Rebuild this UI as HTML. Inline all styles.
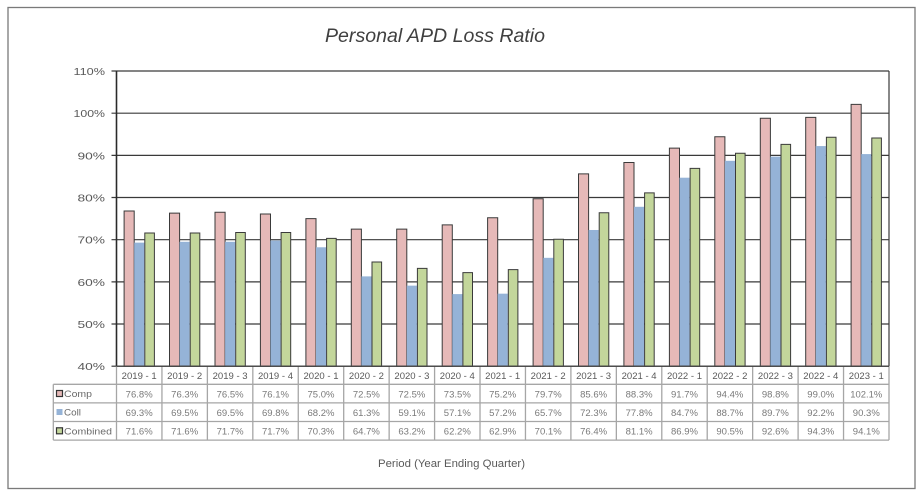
<!DOCTYPE html>
<html><head><meta charset="utf-8"><style>
html,body{margin:0;padding:0;background:#fff;}
svg{display:block;}
text{font-family:"Liberation Sans",sans-serif;fill:#595959;}
.v text{fill:#7a7a7a;}
</style></head><body>
<svg width="922" height="497" viewBox="0 0 922 497" xmlns="http://www.w3.org/2000/svg">
<rect x="0" y="0" width="922" height="497" fill="#fff"/>
<rect x="8" y="7.5" width="907" height="481" fill="#fff" stroke="#7a7a7a" stroke-width="1.3"/>
<text x="325" y="42" font-size="19" font-style="italic" textLength="220" lengthAdjust="spacingAndGlyphs" style="fill:#404040">Personal APD Loss Ratio</text>

<!-- gridlines -->
<g stroke="#3a3a3a" stroke-width="1.2">
<line x1="111.5" y1="71" x2="889" y2="71"/>
<line x1="111.5" y1="113.2" x2="889" y2="113.2"/>
<line x1="111.5" y1="155.4" x2="889" y2="155.4"/>
<line x1="111.5" y1="197.5" x2="889" y2="197.5"/>
<line x1="111.5" y1="239.7" x2="889" y2="239.7"/>
<line x1="111.5" y1="281.9" x2="889" y2="281.9"/>
<line x1="111.5" y1="324.0" x2="889" y2="324.0"/>
<line x1="111.5" y1="366.2" x2="116.5" y2="366.2"/>
<line x1="889" y1="71" x2="889" y2="366.2"/>
</g>

<!-- y labels -->
<g font-size="10.5" text-anchor="end">
<text x="105" y="75" textLength="31.5" lengthAdjust="spacingAndGlyphs">110%</text>
<text x="105" y="117.2" textLength="31.5" lengthAdjust="spacingAndGlyphs">100%</text>
<text x="105" y="159.4" textLength="27.5" lengthAdjust="spacingAndGlyphs">90%</text>
<text x="105" y="201.5" textLength="27.5" lengthAdjust="spacingAndGlyphs">80%</text>
<text x="105" y="243.7" textLength="27.5" lengthAdjust="spacingAndGlyphs">70%</text>
<text x="105" y="285.9" textLength="27.5" lengthAdjust="spacingAndGlyphs">60%</text>
<text x="105" y="328.0" textLength="27.5" lengthAdjust="spacingAndGlyphs">50%</text>
<text x="105" y="370.2" textLength="27.5" lengthAdjust="spacingAndGlyphs">40%</text>
</g>

<!-- bars -->
<g transform="translate(0,366.2) scale(1,-4.217)">
<g fill="#E6B9B8" stroke="#3a3a3a" stroke-width="1">
<rect vector-effect="non-scaling-stroke" x="124.1" y="0" width="10.1" height="36.8"/>
<rect vector-effect="non-scaling-stroke" x="169.5" y="0" width="10.1" height="36.3"/>
<rect vector-effect="non-scaling-stroke" x="215.0" y="0" width="10.1" height="36.5"/>
<rect vector-effect="non-scaling-stroke" x="260.4" y="0" width="10.1" height="36.1"/>
<rect vector-effect="non-scaling-stroke" x="305.9" y="0" width="10.1" height="35.0"/>
<rect vector-effect="non-scaling-stroke" x="351.3" y="0" width="10.1" height="32.5"/>
<rect vector-effect="non-scaling-stroke" x="396.7" y="0" width="10.1" height="32.5"/>
<rect vector-effect="non-scaling-stroke" x="442.2" y="0" width="10.1" height="33.5"/>
<rect vector-effect="non-scaling-stroke" x="487.6" y="0" width="10.1" height="35.2"/>
<rect vector-effect="non-scaling-stroke" x="533.1" y="0" width="10.1" height="39.7"/>
<rect vector-effect="non-scaling-stroke" x="578.5" y="0" width="10.1" height="45.6"/>
<rect vector-effect="non-scaling-stroke" x="623.9" y="0" width="10.1" height="48.3"/>
<rect vector-effect="non-scaling-stroke" x="669.4" y="0" width="10.1" height="51.7"/>
<rect vector-effect="non-scaling-stroke" x="714.8" y="0" width="10.1" height="54.4"/>
<rect vector-effect="non-scaling-stroke" x="760.3" y="0" width="10.1" height="58.8"/>
<rect vector-effect="non-scaling-stroke" x="805.7" y="0" width="10.1" height="59.0"/>
<rect vector-effect="non-scaling-stroke" x="851.1" y="0" width="10.1" height="62.1"/>
</g>
<g fill="#95B3D7">
<rect x="134.2" y="0" width="10.1" height="29.3"/>
<rect x="179.6" y="0" width="10.1" height="29.5"/>
<rect x="225.1" y="0" width="10.1" height="29.5"/>
<rect x="270.5" y="0" width="10.1" height="29.8"/>
<rect x="316.0" y="0" width="10.1" height="28.2"/>
<rect x="361.4" y="0" width="10.1" height="21.3"/>
<rect x="406.8" y="0" width="10.1" height="19.1"/>
<rect x="452.3" y="0" width="10.1" height="17.1"/>
<rect x="497.7" y="0" width="10.1" height="17.2"/>
<rect x="543.2" y="0" width="10.1" height="25.7"/>
<rect x="588.6" y="0" width="10.1" height="32.3"/>
<rect x="634.0" y="0" width="10.1" height="37.8"/>
<rect x="679.5" y="0" width="10.1" height="44.7"/>
<rect x="724.9" y="0" width="10.1" height="48.7"/>
<rect x="770.4" y="0" width="10.1" height="49.7"/>
<rect x="815.8" y="0" width="10.1" height="52.2"/>
<rect x="861.2" y="0" width="10.1" height="50.3"/>
</g>
<g fill="#C3D69B" stroke="#3a3a3a" stroke-width="1">
<rect vector-effect="non-scaling-stroke" x="144.8" y="0" width="9.6" height="31.6"/>
<rect vector-effect="non-scaling-stroke" x="190.2" y="0" width="9.6" height="31.6"/>
<rect vector-effect="non-scaling-stroke" x="235.7" y="0" width="9.6" height="31.7"/>
<rect vector-effect="non-scaling-stroke" x="281.1" y="0" width="9.6" height="31.7"/>
<rect vector-effect="non-scaling-stroke" x="326.6" y="0" width="9.6" height="30.3"/>
<rect vector-effect="non-scaling-stroke" x="372.0" y="0" width="9.6" height="24.7"/>
<rect vector-effect="non-scaling-stroke" x="417.4" y="0" width="9.6" height="23.2"/>
<rect vector-effect="non-scaling-stroke" x="462.9" y="0" width="9.6" height="22.2"/>
<rect vector-effect="non-scaling-stroke" x="508.3" y="0" width="9.6" height="22.9"/>
<rect vector-effect="non-scaling-stroke" x="553.8" y="0" width="9.6" height="30.1"/>
<rect vector-effect="non-scaling-stroke" x="599.2" y="0" width="9.6" height="36.4"/>
<rect vector-effect="non-scaling-stroke" x="644.6" y="0" width="9.6" height="41.1"/>
<rect vector-effect="non-scaling-stroke" x="690.1" y="0" width="9.6" height="46.9"/>
<rect vector-effect="non-scaling-stroke" x="735.5" y="0" width="9.6" height="50.5"/>
<rect vector-effect="non-scaling-stroke" x="781.0" y="0" width="9.6" height="52.6"/>
<rect vector-effect="non-scaling-stroke" x="826.4" y="0" width="9.6" height="54.3"/>
<rect vector-effect="non-scaling-stroke" x="871.8" y="0" width="9.6" height="54.1"/>
</g>
</g>

<!-- left axis -->
<line x1="116.5" y1="71" x2="116.5" y2="366.2" stroke="#2a2a2a" stroke-width="1.6"/>

<!-- table lines -->
<g stroke="#a6a6a6" stroke-width="1.3">
<line x1="116.5" y1="366.2" x2="889" y2="366.2"/>
<line x1="53.3" y1="384.3" x2="889" y2="384.3"/>
<line x1="53.3" y1="402.9" x2="889" y2="402.9"/>
<line x1="53.3" y1="421.5" x2="889" y2="421.5"/>
<line x1="53.3" y1="440.1" x2="889" y2="440.1"/>
<line x1="53.3" y1="384.3" x2="53.3" y2="440.1"/>
<line x1="116.5" y1="366.2" x2="116.5" y2="440.1"/>
<line x1="161.94" y1="366.2" x2="161.94" y2="440.1"/>
<line x1="207.38" y1="366.2" x2="207.38" y2="440.1"/>
<line x1="252.82" y1="366.2" x2="252.82" y2="440.1"/>
<line x1="298.26" y1="366.2" x2="298.26" y2="440.1"/>
<line x1="343.7" y1="366.2" x2="343.7" y2="440.1"/>
<line x1="389.14" y1="366.2" x2="389.14" y2="440.1"/>
<line x1="434.58" y1="366.2" x2="434.58" y2="440.1"/>
<line x1="480.02" y1="366.2" x2="480.02" y2="440.1"/>
<line x1="525.46" y1="366.2" x2="525.46" y2="440.1"/>
<line x1="570.9" y1="366.2" x2="570.9" y2="440.1"/>
<line x1="616.34" y1="366.2" x2="616.34" y2="440.1"/>
<line x1="661.78" y1="366.2" x2="661.78" y2="440.1"/>
<line x1="707.22" y1="366.2" x2="707.22" y2="440.1"/>
<line x1="752.66" y1="366.2" x2="752.66" y2="440.1"/>
<line x1="798.1" y1="366.2" x2="798.1" y2="440.1"/>
<line x1="843.54" y1="366.2" x2="843.54" y2="440.1"/>
<line x1="889" y1="366.2" x2="889" y2="440.1"/>
</g>
<line x1="116.5" y1="366.2" x2="889" y2="366.2" stroke="#2a2a2a" stroke-width="1.2"/>

<!-- legend keys -->
<rect x="56.5" y="390.5" width="6" height="6" fill="#E6B9B8" stroke="#333" stroke-width="1.2"/>
<rect x="56.5" y="409" width="6" height="6" fill="#95B3D7"/>
<rect x="56.5" y="427.8" width="6" height="6" fill="#C3D69B" stroke="#333" stroke-width="1.2"/>
<g font-size="9.5" style="fill:#6a6a6a">
<text x="64" y="397" textLength="28" lengthAdjust="spacingAndGlyphs" style="fill:#6a6a6a">Comp</text>
<text x="64" y="415.6" textLength="17" lengthAdjust="spacingAndGlyphs" style="fill:#6a6a6a">Coll</text>
<text x="64" y="434.3" textLength="48" lengthAdjust="spacingAndGlyphs" style="fill:#6a6a6a">Combined</text>
</g>

<!-- header labels -->
<g font-size="9" text-anchor="middle">
<text x="139.2" y="379" textLength="35" lengthAdjust="spacingAndGlyphs">2019 - 1</text>
<text x="184.7" y="379" textLength="35" lengthAdjust="spacingAndGlyphs">2019 - 2</text>
<text x="230.1" y="379" textLength="35" lengthAdjust="spacingAndGlyphs">2019 - 3</text>
<text x="275.5" y="379" textLength="35" lengthAdjust="spacingAndGlyphs">2019 - 4</text>
<text x="321.0" y="379" textLength="35" lengthAdjust="spacingAndGlyphs">2020 - 1</text>
<text x="366.4" y="379" textLength="35" lengthAdjust="spacingAndGlyphs">2020 - 2</text>
<text x="411.9" y="379" textLength="35" lengthAdjust="spacingAndGlyphs">2020 - 3</text>
<text x="457.3" y="379" textLength="35" lengthAdjust="spacingAndGlyphs">2020 - 4</text>
<text x="502.7" y="379" textLength="35" lengthAdjust="spacingAndGlyphs">2021 - 1</text>
<text x="548.2" y="379" textLength="35" lengthAdjust="spacingAndGlyphs">2021 - 2</text>
<text x="593.6" y="379" textLength="35" lengthAdjust="spacingAndGlyphs">2021 - 3</text>
<text x="639.1" y="379" textLength="35" lengthAdjust="spacingAndGlyphs">2021 - 4</text>
<text x="684.5" y="379" textLength="35" lengthAdjust="spacingAndGlyphs">2022 - 1</text>
<text x="729.9" y="379" textLength="35" lengthAdjust="spacingAndGlyphs">2022 - 2</text>
<text x="775.4" y="379" textLength="35" lengthAdjust="spacingAndGlyphs">2022 - 3</text>
<text x="820.8" y="379" textLength="35" lengthAdjust="spacingAndGlyphs">2022 - 4</text>
<text x="866.3" y="379" textLength="35" lengthAdjust="spacingAndGlyphs">2023 - 1</text>
</g>

<!-- values -->
<g class="v" font-size="9" text-anchor="middle">
<text x="139.2" y="397.3" textLength="27" lengthAdjust="spacingAndGlyphs">76.8%</text>
<text x="184.7" y="397.3" textLength="27" lengthAdjust="spacingAndGlyphs">76.3%</text>
<text x="230.1" y="397.3" textLength="27" lengthAdjust="spacingAndGlyphs">76.5%</text>
<text x="275.5" y="397.3" textLength="27" lengthAdjust="spacingAndGlyphs">76.1%</text>
<text x="321.0" y="397.3" textLength="27" lengthAdjust="spacingAndGlyphs">75.0%</text>
<text x="366.4" y="397.3" textLength="27" lengthAdjust="spacingAndGlyphs">72.5%</text>
<text x="411.9" y="397.3" textLength="27" lengthAdjust="spacingAndGlyphs">72.5%</text>
<text x="457.3" y="397.3" textLength="27" lengthAdjust="spacingAndGlyphs">73.5%</text>
<text x="502.7" y="397.3" textLength="27" lengthAdjust="spacingAndGlyphs">75.2%</text>
<text x="548.2" y="397.3" textLength="27" lengthAdjust="spacingAndGlyphs">79.7%</text>
<text x="593.6" y="397.3" textLength="27" lengthAdjust="spacingAndGlyphs">85.6%</text>
<text x="639.1" y="397.3" textLength="27" lengthAdjust="spacingAndGlyphs">88.3%</text>
<text x="684.5" y="397.3" textLength="27" lengthAdjust="spacingAndGlyphs">91.7%</text>
<text x="729.9" y="397.3" textLength="27" lengthAdjust="spacingAndGlyphs">94.4%</text>
<text x="775.4" y="397.3" textLength="27" lengthAdjust="spacingAndGlyphs">98.8%</text>
<text x="820.8" y="397.3" textLength="27" lengthAdjust="spacingAndGlyphs">99.0%</text>
<text x="866.3" y="397.3" textLength="32" lengthAdjust="spacingAndGlyphs">102.1%</text>

<text x="139.2" y="415.9" textLength="27" lengthAdjust="spacingAndGlyphs">69.3%</text>
<text x="184.7" y="415.9" textLength="27" lengthAdjust="spacingAndGlyphs">69.5%</text>
<text x="230.1" y="415.9" textLength="27" lengthAdjust="spacingAndGlyphs">69.5%</text>
<text x="275.5" y="415.9" textLength="27" lengthAdjust="spacingAndGlyphs">69.8%</text>
<text x="321.0" y="415.9" textLength="27" lengthAdjust="spacingAndGlyphs">68.2%</text>
<text x="366.4" y="415.9" textLength="27" lengthAdjust="spacingAndGlyphs">61.3%</text>
<text x="411.9" y="415.9" textLength="27" lengthAdjust="spacingAndGlyphs">59.1%</text>
<text x="457.3" y="415.9" textLength="27" lengthAdjust="spacingAndGlyphs">57.1%</text>
<text x="502.7" y="415.9" textLength="27" lengthAdjust="spacingAndGlyphs">57.2%</text>
<text x="548.2" y="415.9" textLength="27" lengthAdjust="spacingAndGlyphs">65.7%</text>
<text x="593.6" y="415.9" textLength="27" lengthAdjust="spacingAndGlyphs">72.3%</text>
<text x="639.1" y="415.9" textLength="27" lengthAdjust="spacingAndGlyphs">77.8%</text>
<text x="684.5" y="415.9" textLength="27" lengthAdjust="spacingAndGlyphs">84.7%</text>
<text x="729.9" y="415.9" textLength="27" lengthAdjust="spacingAndGlyphs">88.7%</text>
<text x="775.4" y="415.9" textLength="27" lengthAdjust="spacingAndGlyphs">89.7%</text>
<text x="820.8" y="415.9" textLength="27" lengthAdjust="spacingAndGlyphs">92.2%</text>
<text x="866.3" y="415.9" textLength="27" lengthAdjust="spacingAndGlyphs">90.3%</text>

<text x="139.2" y="434.5" textLength="27" lengthAdjust="spacingAndGlyphs">71.6%</text>
<text x="184.7" y="434.5" textLength="27" lengthAdjust="spacingAndGlyphs">71.6%</text>
<text x="230.1" y="434.5" textLength="27" lengthAdjust="spacingAndGlyphs">71.7%</text>
<text x="275.5" y="434.5" textLength="27" lengthAdjust="spacingAndGlyphs">71.7%</text>
<text x="321.0" y="434.5" textLength="27" lengthAdjust="spacingAndGlyphs">70.3%</text>
<text x="366.4" y="434.5" textLength="27" lengthAdjust="spacingAndGlyphs">64.7%</text>
<text x="411.9" y="434.5" textLength="27" lengthAdjust="spacingAndGlyphs">63.2%</text>
<text x="457.3" y="434.5" textLength="27" lengthAdjust="spacingAndGlyphs">62.2%</text>
<text x="502.7" y="434.5" textLength="27" lengthAdjust="spacingAndGlyphs">62.9%</text>
<text x="548.2" y="434.5" textLength="27" lengthAdjust="spacingAndGlyphs">70.1%</text>
<text x="593.6" y="434.5" textLength="27" lengthAdjust="spacingAndGlyphs">76.4%</text>
<text x="639.1" y="434.5" textLength="27" lengthAdjust="spacingAndGlyphs">81.1%</text>
<text x="684.5" y="434.5" textLength="27" lengthAdjust="spacingAndGlyphs">86.9%</text>
<text x="729.9" y="434.5" textLength="27" lengthAdjust="spacingAndGlyphs">90.5%</text>
<text x="775.4" y="434.5" textLength="27" lengthAdjust="spacingAndGlyphs">92.6%</text>
<text x="820.8" y="434.5" textLength="27" lengthAdjust="spacingAndGlyphs">94.3%</text>
<text x="866.3" y="434.5" textLength="27" lengthAdjust="spacingAndGlyphs">94.1%</text>
</g>

<text x="378" y="467" font-size="11" textLength="147" lengthAdjust="spacingAndGlyphs">Period (Year Ending Quarter)</text>
</svg>
</body></html>
